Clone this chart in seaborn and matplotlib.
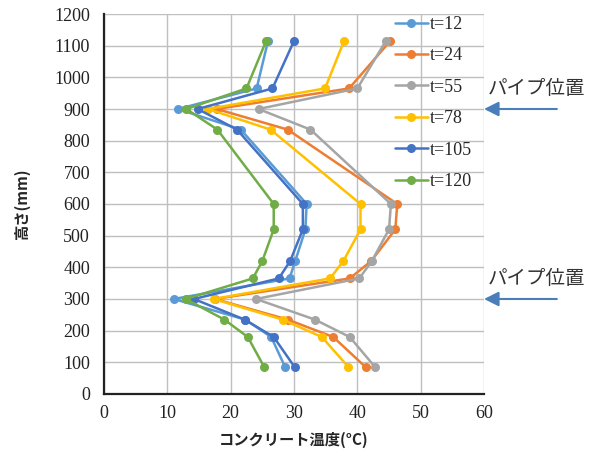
import pandas as pd
import matplotlib
matplotlib.use("Agg")
import matplotlib.pyplot as plt
import seaborn as sns

heights = [85, 180, 235, 300, 365, 420, 520, 600, 835, 900, 965, 1115]
t12 = [28.6, 26.4, 22.3, 11.0, 29.3, 30.2, 31.8, 32.0, 21.6, 11.7, 24.1, 25.9]
t24 = [41.3, 36.2, 29.0, 17.5, 38.8, 42.2, 46.0, 46.3, 29.0, 17.8, 38.7, 45.2]
t55 = [42.8, 38.8, 33.3, 24.0, 40.3, 42.3, 45.0, 45.3, 32.6, 24.4, 40.0, 44.5]
t78 = [38.6, 34.4, 28.2, 17.3, 35.7, 37.8, 40.5, 40.5, 26.3, 16.4, 34.9, 37.9]
t105 = [30.1, 26.8, 22.2, 14.2, 27.6, 29.4, 31.4, 31.4, 21.0, 14.8, 26.6, 30.0]
t120 = [25.3, 22.7, 19.0, 12.9, 23.5, 25.0, 26.8, 26.8, 17.9, 13.0, 22.5, 25.6]
series_names = ["t=12", "t=24", "t=55", "t=78", "t=105", "t=120"]
colors = ["#5B9BD5", "#ED7D31", "#A5A5A5", "#FFC000", "#4472C4", "#70AD47"]
pipe_heights = [300, 900]
xticks = list(range(0, 61, 10))
yticks = list(range(0, 1201, 100))

rows = []
for name, vals in zip(series_names, [t12, t24, t55, t78, t105, t120]):
    for h, v in zip(heights, vals):
        rows.append({"series": name, "temp": v, "height": h})
df = pd.DataFrame(rows)

sns.set_style("white")
serif = ["Liberation Serif", "DejaVu Serif"]
cjk = ["Noto Sans CJK JP", "DejaVu Sans"]
plt.rcParams["font.family"] = serif

fig = plt.figure(figsize=(6, 4.55), dpi=100)
ax = fig.add_axes([0.1733, 0.1341, 0.6334, 0.8351])

sns.lineplot(data=df, x="temp", y="height", hue="series", hue_order=series_names,
             palette=colors, marker="o", markersize=6.5, markeredgewidth=0,
             linewidth=1.8, sort=False, estimator=None, ax=ax)

ax.set_xlim(0, 60)
ax.set_ylim(0, 1200)
ax.set_xticks(xticks, [str(v) for v in xticks], fontfamily=serif, fontsize=13)
ax.set_yticks(yticks, [str(v) for v in yticks], fontfamily=serif, fontsize=13)
ax.grid(True, color="#BFBFBF", linewidth=1)
ax.set_axisbelow(True)
for s in ["top", "right"]:
    ax.spines[s].set_visible(False)
for s in ["left", "bottom"]:
    ax.spines[s].set_color("#222222")
    ax.spines[s].set_linewidth(1.6)
ax.tick_params(length=0, labelcolor="#222222")
ax.tick_params(axis="x", pad=8)
ax.tick_params(axis="y", pad=10)

ax.set_xlabel("コンクリート温度(°C)", family=cjk, fontsize=11, fontweight="bold")
ax.set_ylabel("高さ(mm)", family=cjk, fontsize=11, fontweight="bold")
ax.xaxis.set_label_coords(0.5, -0.1)
ax.yaxis.set_label_coords(-0.195, 0.5)

ax.legend(frameon=False, loc="upper left", bbox_to_anchor=(0.766, 0.995),
          borderaxespad=0, borderpad=0, handlelength=1.8, handletextpad=0.15,
          labelspacing=0.8, prop={"family": serif, "size": 13})

for h in pipe_heights:
    ax.annotate("", xy=(60, h), xytext=(71.5, h), annotation_clip=False,
                arrowprops=dict(arrowstyle="-|>", mutation_scale=22, color="#4A7EBB", lw=1.5,
                                shrinkA=0, shrinkB=0))
    ax.text(68.3, h + 66, "パイプ位置", family=cjk, fontsize=14,
            ha="center", va="center", color="#333333", clip_on=False)

fig.savefig("out.png", dpi=100)
